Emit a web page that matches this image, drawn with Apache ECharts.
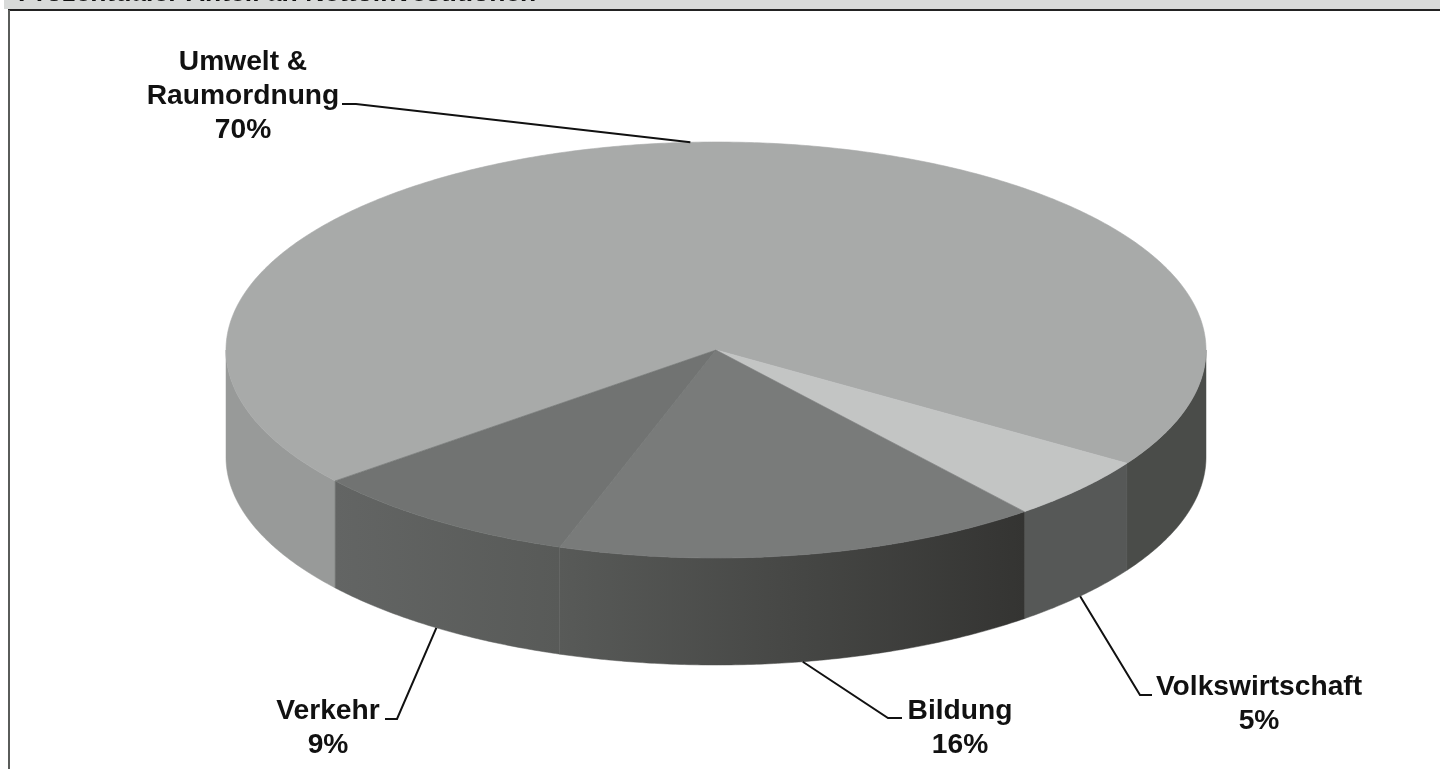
<!DOCTYPE html>
<html><head><meta charset="utf-8">
<style>html,body{margin:0;padding:0;background:#fff}#c{width:1440px;height:769px}</style>
<script src="https://cdn.jsdelivr.net/npm/echarts@6/dist/echarts.min.js"></script>
</head><body><div id="c"></div>
<script>
const chartTitle = 'Prozentualer Anteil an Nettoinvestitionen';
const categories = ['Umwelt &\nRaumordnung', 'Volkswirtschaft', 'Bildung', 'Verkehr'];
const values = [70, 5, 16, 9];
const topColors = ['#a8aaa9', '#c3c5c4', '#797b7a', '#717372'];
const sideLeft = ['#989a99', '#565857', '#585a58', '#636564'];
const sideRight = ['#4a4c49', '#565857', '#343432', '#585a58'];

// layout of the tilted pie
const cx = 716, cy = 350, rx = 490, ry = 208, depth = 107;
const startAngle = 141;
const total = values.reduce((a, b) => a + b, 0);
const labelBox = [
  {x: 243, y: 96.5, elbow: [356, 104], end: [342, 104]},
  {x: 1259, y: 704, elbow: [1140, 695], end: [1152, 695]},
  {x: 960, y: 728, elbow: [888, 718], end: [902, 718]},
  {x: 328, y: 728, elbow: [397, 719], end: [385, 719]}
];
const rad = d => d * Math.PI / 180;
function range(i) {
  let s = startAngle;
  for (let k = 0; k < i; k++) s += values[k] / total * 360;
  return [s, s + values[i] / total * 360];
}
function pt(a, dy) { return [cx + rx * Math.cos(rad(a)), cy + ry * Math.sin(rad(a)) + (dy || 0)]; }
function arc(a, b) {
  const out = [], n = Math.max(2, Math.ceil(Math.abs(b - a) * 2));
  for (let j = 0; j <= n; j++) out.push(a + (b - a) * j / n);
  return out;
}
function renderSide(params) {
  const i = params.dataIndex, [s, e] = range(i), kids = [];
  [[s, e], [s - 360, e - 360]].forEach(([a0, b0]) => {
    const a = Math.max(a0, 0), b = Math.min(b0, 180);
    if (b <= a) return;
    const arcs = arc(a, b);
    const pts = arcs.map(t => pt(t)).concat(arcs.slice().reverse().map(t => pt(t, depth)));
    const xs = pts.map(p => p[0]);
    const xmin = Math.min(...xs), xmax = Math.max(...xs);
    // the biggest slice shows on both sides of the cake, each in its own tone
    const tone = i === 0 ? (a < 90 ? sideRight[0] : sideLeft[0]) : null;
    const fill = tone || {type: 'linear', x: xmin, y: 0, x2: xmax, y2: 0, global: true,
      colorStops: [{offset: 0, color: sideLeft[i]}, {offset: 1, color: sideRight[i]}]};
    kids.push({type: 'polygon', shape: {points: pts}, style: {fill: fill, stroke: tone || fill, lineWidth: 0.5}});
  });
  return {type: 'group', children: kids};
}
function renderTop(params) {
  const i = params.dataIndex, [s, e] = range(i);
  const pts = [[cx, cy]].concat(arc(s, e).map(t => pt(t)));
  return {type: 'polygon', shape: {points: pts},
    style: {fill: topColors[i], stroke: topColors[i], lineWidth: 0.6}};
}
function renderLabel(params, api) {
  const i = params.dataIndex, [s, e] = range(i), mid = (s + e) / 2, l = labelBox[i];
  const back = Math.sin(rad(mid)) < 0;
  const anchor = pt(mid, back ? 0 : depth);
  return {type: 'group', children: [
    {type: 'polyline', shape: {points: [anchor, l.elbow, l.end]},
      style: {fill: null, stroke: '#111', lineWidth: 2}},
    {type: 'text', x: l.x, y: l.y, style: {
      text: categories[i] + '\n' + api.value(0) + '%',
      font: 'bold 28.2px "Liberation Sans", Arial, sans-serif', fill: '#111',
      align: 'center', verticalAlign: 'middle', lineHeight: 34}}
  ]};
}
const rows = values.map(v => [v]);
const chart = echarts.init(document.getElementById('c'), null, {renderer: 'canvas'});
chart.setOption({
  animation: false,
  backgroundColor: '#fff',
  tooltip: {show: false},
  graphic: [
    {type: 'rect', z: 0, shape: {x: 4, y: 0, width: 1436, height: 9}, style: {fill: '#d8dad9'}},
    {type: 'text', z: 1, x: 18, y: -19.5, style: {text: chartTitle,
      font: 'bold 26.5px "Liberation Sans", Arial, sans-serif', fill: '#111'}},
    {type: 'rect', z: 2, shape: {x: 8, y: 9, width: 1432, height: 2}, style: {fill: '#222'}},
    {type: 'rect', z: 2, shape: {x: 8, y: 10, width: 2, height: 759}, style: {fill: '#5a5c5a'}}
  ],
  series: [
    {type: 'custom', coordinateSystem: 'none', silent: true, z: 3, data: rows, renderItem: renderSide},
    {type: 'custom', coordinateSystem: 'none', silent: true, z: 4, data: rows, renderItem: renderTop},
    {type: 'custom', coordinateSystem: 'none', silent: true, z: 5, data: rows, renderItem: renderLabel}
  ]
});
</script></body></html>
